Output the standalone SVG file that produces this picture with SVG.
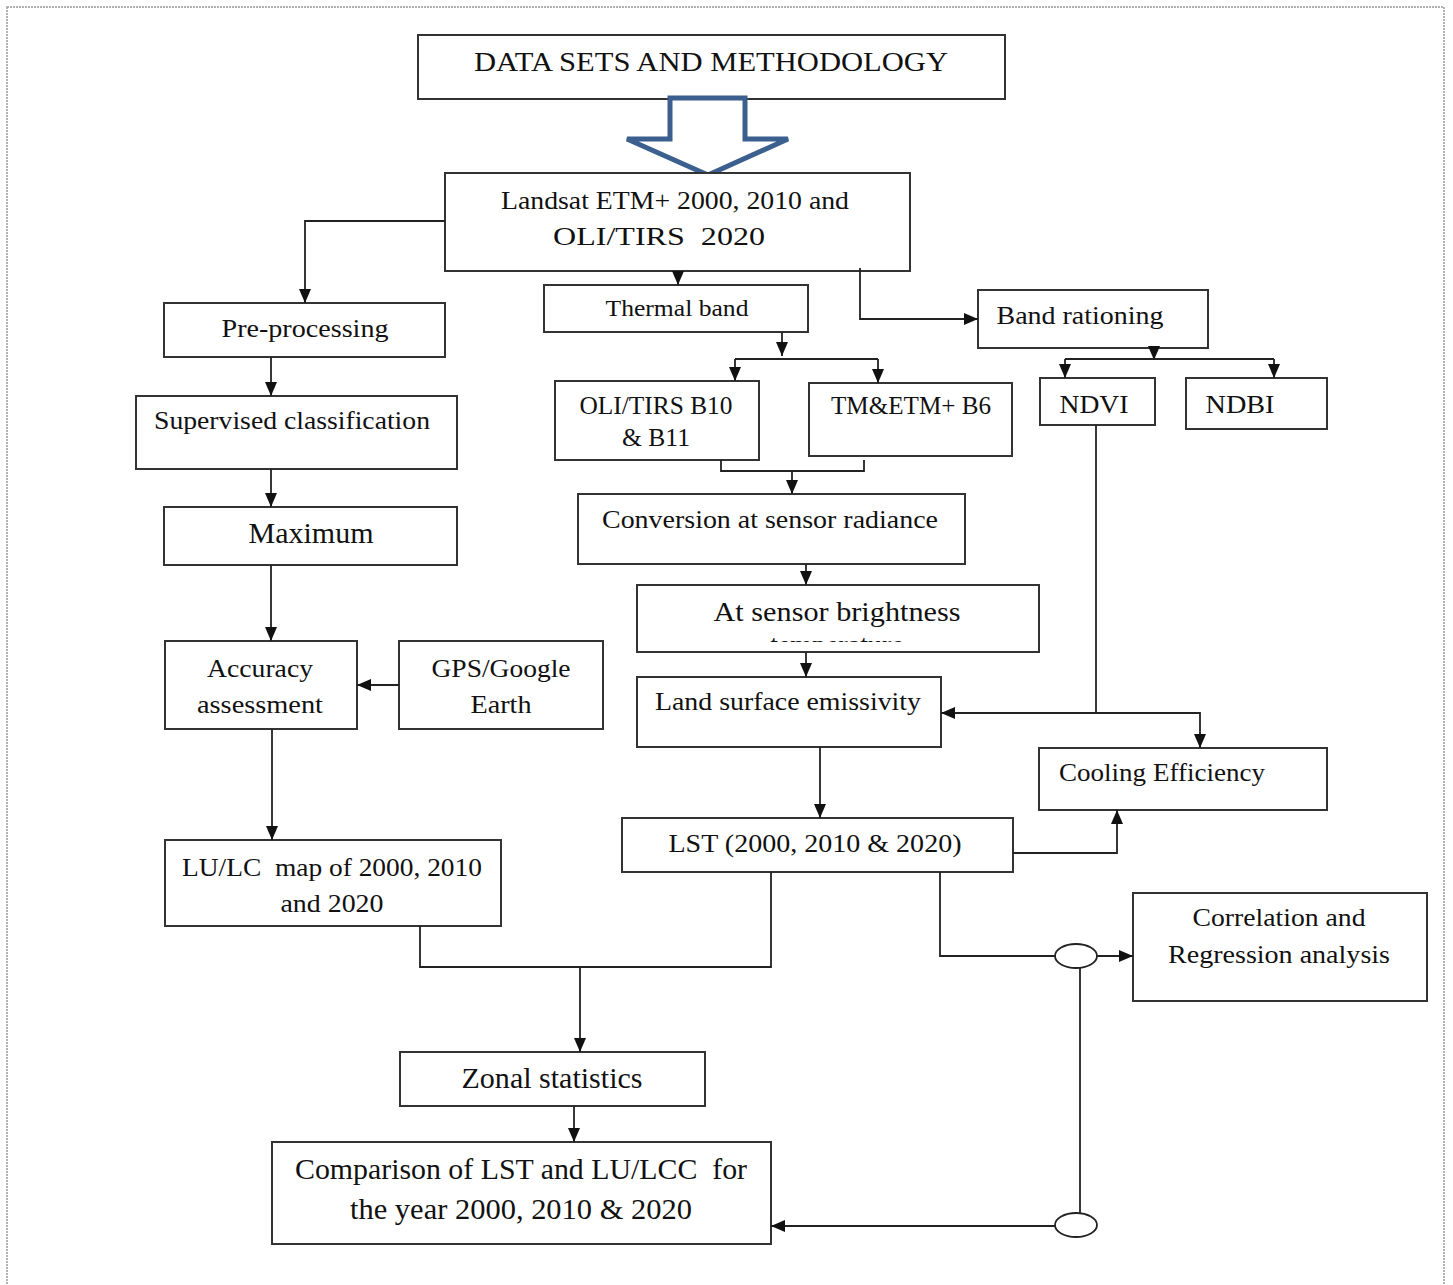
<svg xmlns="http://www.w3.org/2000/svg" width="1453" height="1285" viewBox="0 0 1453 1285">
<defs>
<style>
.box{fill:#fff;stroke:#333;stroke-width:2}
.t{font-family:"Liberation Serif","Times New Roman",serif;fill:#111;text-anchor:middle;white-space:pre}
.c{fill:none;stroke:#222;stroke-width:1.8}
.a{marker-end:url(#ah)}
</style>
<marker id="ah" viewBox="0 0 14 12" refX="14" refY="6" markerWidth="14" markerHeight="12" markerUnits="userSpaceOnUse" orient="auto">
<path d="M0,0 L14,6 L0,12 z" fill="#111"/>
</marker>
<clipPath id="clipAS"><rect x="637" y="585" width="402" height="57"/></clipPath>
</defs>
<rect x="7" y="7" width="1437" height="1300" fill="none" stroke="#999" stroke-width="1.5" stroke-dasharray="2,1"/>

<g id="n-title"><rect class="box" x="418" y="35" width="587" height="64"/><text class="t" x="711" y="71" font-size="27" textLength="474" lengthAdjust="spacingAndGlyphs">DATA SETS AND METHODOLOGY</text></g>
<g id="bigarrow"><path d="M670,98 L745,98 L745,139 L788,139 L708,175 L627,139 L670,139 Z" fill="#fff" stroke="#3b5f8e" stroke-width="5" stroke-linejoin="miter"/></g>
<g id="n-landsat"><rect class="box" x="445" y="173" width="465" height="98"/><text class="t" x="675" y="209" font-size="25" textLength="348" lengthAdjust="spacingAndGlyphs">Landsat ETM+ 2000, 2010 and</text><text class="t" x="659" y="245" font-size="25" textLength="212" lengthAdjust="spacingAndGlyphs" xml:space="preserve">OLI/TIRS  2020</text></g>
<g id="n-pre"><rect class="box" x="164" y="303" width="281" height="54"/><text class="t" x="305" y="337" font-size="25" textLength="167" lengthAdjust="spacingAndGlyphs">Pre-processing</text></g>
<g id="n-thermal"><rect class="box" x="544" y="285" width="264" height="47"/><text class="t" x="677" y="316" font-size="23" textLength="143" lengthAdjust="spacingAndGlyphs">Thermal band</text></g>
<g id="n-band"><rect class="box" x="978" y="290" width="230" height="58"/><text class="t" x="1080" y="324" font-size="25" textLength="167" lengthAdjust="spacingAndGlyphs">Band rationing</text></g>
<g id="n-oli"><rect class="box" x="555" y="381" width="204" height="79"/><text class="t" x="656" y="414" font-size="25" textLength="153" lengthAdjust="spacingAndGlyphs">OLI/TIRS B10</text><text class="t" x="656" y="446" font-size="25" textLength="68" lengthAdjust="spacingAndGlyphs">&amp; B11</text></g>
<g id="n-tm"><rect class="box" x="809" y="383" width="203" height="73"/><text class="t" x="911" y="414" font-size="25" textLength="160" lengthAdjust="spacingAndGlyphs">TM&amp;ETM+ B6</text></g>
<g id="n-ndvi"><rect class="box" x="1040" y="378" width="115" height="47"/><text class="t" x="1094" y="413" font-size="25" textLength="69" lengthAdjust="spacingAndGlyphs">NDVI</text></g>
<g id="n-ndbi"><rect class="box" x="1186" y="378" width="141" height="51"/><text class="t" x="1240" y="413" font-size="25" textLength="69" lengthAdjust="spacingAndGlyphs">NDBI</text></g>
<g id="n-sup"><rect class="box" x="136" y="396" width="321" height="73"/><text class="t" x="292" y="429" font-size="25" textLength="276" lengthAdjust="spacingAndGlyphs">Supervised classification</text></g>
<g id="n-max"><rect class="box" x="164" y="507" width="293" height="58"/><text class="t" x="311" y="543" font-size="29" textLength="125" lengthAdjust="spacingAndGlyphs">Maximum</text></g>
<g id="n-conv"><rect class="box" x="578" y="494" width="387" height="70"/><text class="t" x="770" y="528" font-size="25" textLength="336" lengthAdjust="spacingAndGlyphs">Conversion at sensor radiance</text></g>
<g id="n-atsensor"><rect class="box" x="637" y="585" width="402" height="67"/><text class="t" x="837" y="621" font-size="28" textLength="247" lengthAdjust="spacingAndGlyphs">At sensor brightness</text><text class="t" x="837" y="654" font-size="28" clip-path="url(#clipAS)">temperature</text></g>
<g id="n-lse"><rect class="box" x="637" y="677" width="304" height="70"/><text class="t" x="788" y="710" font-size="25" textLength="266" lengthAdjust="spacingAndGlyphs">Land surface emissivity</text></g>
<g id="n-acc"><rect class="box" x="165" y="641" width="192" height="88"/><text class="t" x="260" y="677" font-size="25" textLength="106" lengthAdjust="spacingAndGlyphs">Accuracy</text><text class="t" x="260" y="713" font-size="25" textLength="126" lengthAdjust="spacingAndGlyphs">assessment</text></g>
<g id="n-gps"><rect class="box" x="399" y="641" width="204" height="88"/><text class="t" x="501" y="677" font-size="25" textLength="139" lengthAdjust="spacingAndGlyphs">GPS/Google</text><text class="t" x="501" y="713" font-size="25" textLength="61" lengthAdjust="spacingAndGlyphs">Earth</text></g>
<g id="n-cool"><rect class="box" x="1039" y="748" width="288" height="62"/><text class="t" x="1162" y="781" font-size="25" textLength="206" lengthAdjust="spacingAndGlyphs">Cooling Efficiency</text></g>
<g id="n-lst"><rect class="box" x="622" y="818" width="391" height="54"/><text class="t" x="815" y="852" font-size="25" textLength="293" lengthAdjust="spacingAndGlyphs">LST (2000, 2010 &amp; 2020)</text></g>
<g id="n-lulc"><rect class="box" x="165" y="840" width="336" height="86"/><text class="t" x="332" y="876" font-size="25" textLength="300" lengthAdjust="spacingAndGlyphs" xml:space="preserve">LU/LC  map of 2000, 2010</text><text class="t" x="332" y="912" font-size="25" textLength="103" lengthAdjust="spacingAndGlyphs">and 2020</text></g>
<g id="n-corr"><rect class="box" x="1133" y="893" width="294" height="108"/><text class="t" x="1279" y="926" font-size="25" textLength="173" lengthAdjust="spacingAndGlyphs">Correlation and</text><text class="t" x="1279" y="963" font-size="25" textLength="222" lengthAdjust="spacingAndGlyphs">Regression analysis</text></g>
<g id="n-zonal"><rect class="box" x="400" y="1052" width="305" height="54"/><text class="t" x="552" y="1088" font-size="29" textLength="181" lengthAdjust="spacingAndGlyphs">Zonal statistics</text></g>
<g id="n-comp"><rect class="box" x="272" y="1142" width="499" height="102"/><text class="t" x="521" y="1179" font-size="29" textLength="452" lengthAdjust="spacingAndGlyphs" xml:space="preserve">Comparison of LST and LU/LCC  for</text><text class="t" x="521" y="1219" font-size="29" textLength="342" lengthAdjust="spacingAndGlyphs">the year 2000, 2010 &amp; 2020</text></g>
<g id="n-ell1"><ellipse cx="1076" cy="956" rx="21" ry="12" fill="#fff" stroke="#222" stroke-width="1.8"/></g>
<g id="n-ell2"><ellipse cx="1076" cy="1225" rx="21" ry="12" fill="#fff" stroke="#222" stroke-width="1.8"/></g>

<g id="connectors">
<path class="c a" d="M445,221 H305 V303"/>
<path class="c a" d="M678,271 V285"/>
<path class="c a" d="M860,268 V319 H978"/>
<path class="c a" d="M782,332 V356"/>
<path class="c" d="M735,359 H878"/>
<path class="c a" d="M735,359 V381"/>
<path class="c a" d="M878,359 V383"/>
<path class="c a" d="M1154,346 V360"/>
<path class="c" d="M1065,359 H1274"/>
<path class="c a" d="M1065,359 V378"/>
<path class="c a" d="M1274,359 V378"/>
<path class="c" d="M721,460 V471 H864 V460"/>
<path class="c a" d="M792,471 V494"/>
<path class="c a" d="M806,564 V585"/>
<path class="c a" d="M806,652 V677"/>
<path class="c" d="M1096,425 V713"/>
<path class="c a" d="M1096,713 H941"/>
<path class="c a" d="M1096,713 H1200 V748"/>
<path class="c a" d="M820,747 V818"/>
<path class="c a" d="M1013,853 H1117 V810"/>
<path class="c" d="M940,872 V956 H1055"/>
<path class="c a" d="M1097,956 H1133"/>
<path class="c" d="M1080,968 V1213"/>
<path class="c a" d="M1055,1226 H771"/>
<path class="c a" d="M271,357 V396"/>
<path class="c a" d="M271,469 V507"/>
<path class="c a" d="M271,565 V641"/>
<path class="c a" d="M399,685 H357"/>
<path class="c a" d="M272,729 V840"/>
<path class="c" d="M420,926 V967 H771 V872"/>
<path class="c a" d="M580,967 V1052"/>
<path class="c a" d="M574,1106 V1142"/>
</g>
</svg>
